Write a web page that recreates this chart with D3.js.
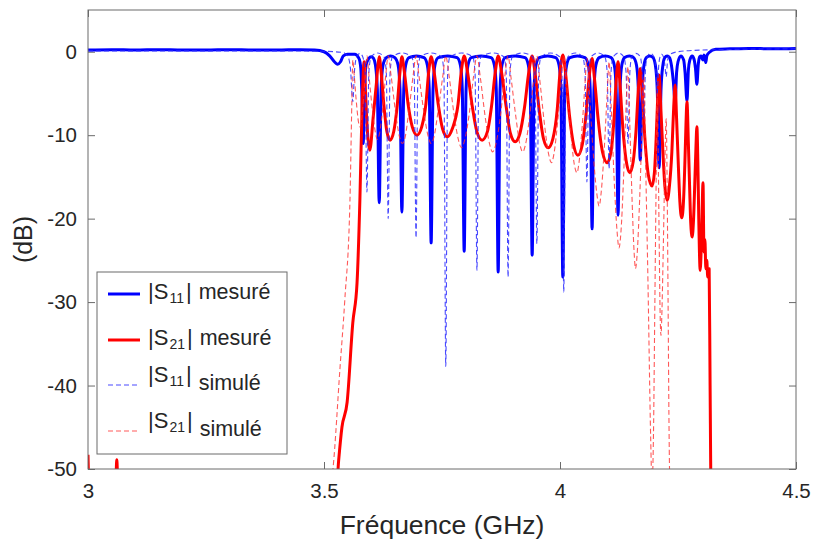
<!DOCTYPE html>
<html>
<head>
<meta charset="utf-8">
<script src="https://cdn.jsdelivr.net/npm/d3@7/dist/d3.min.js"></script>
<style>
  html, body { margin: 0; padding: 0; background: #ffffff; }
  svg { display: block; }
  text { font-family: "Liberation Sans", Arial, Helvetica, sans-serif; fill: #262626; }
</style>
</head>
<body>
<svg id="chart" width="815" height="549"></svg>
<script>
// ---------- data (frequency in GHz, magnitude in dB) ----------
const xTicks = [3, 3.5, 4, 4.5];
const xTickLabels = ["3", "3.5", "4", "4.5"];
const yTicks = [0, -10, -20, -30, -40, -50];
const yTickLabels = ["0", "-10", "-20", "-30", "-40", "-50"];

const seriesNames = ["|S11| mesuré", "|S21| mesuré", "|S11| simulé", "|S21| simulé"];

// measured |S11|
const s11Mesure = [
  [3.000,0.2],[3.050,0.25],[3.100,0.2],[3.150,0.25],[3.200,0.2],[3.250,0.2],[3.300,0.25],[3.350,0.2],
  [3.400,0.2],[3.450,0.25],[3.480,0.2],[3.500,0.0],[3.512,-0.5],[3.522,-1.2],[3.529,-1.5],[3.535,-1.2],
  [3.541,-0.5],[3.550,-0.3],[3.565,-0.3],[3.574,-0.8],[3.578,-2],[3.580,-4.5],[3.583,-11],[3.586,-4.5],
  [3.589,-1.6],[3.595,-0.8],[3.600,-0.6],[3.605,-0.8],[3.609,-1.6],[3.613,-4.5],[3.617,-18.1],
  [3.621,-4.5],[3.625,-1.6],[3.632,-0.7],[3.641,-0.5],[3.650,-0.7],[3.657,-1.6],[3.661,-4.5],[3.665,-19.2],
  [3.669,-4.5],[3.673,-1.6],[3.680,-0.7],[3.696,-0.5],[3.712,-0.7],[3.719,-1.6],[3.723,-4.5],[3.727,-22.9],
  [3.731,-4.5],[3.735,-1.6],[3.742,-0.7],[3.762,-0.5],[3.782,-0.7],[3.789,-1.6],[3.793,-4.5],[3.797,-23.9],
  [3.801,-4.5],[3.805,-1.6],[3.812,-0.7],[3.833,-0.5],[3.854,-0.7],[3.861,-1.6],[3.865,-4.5],[3.869,-26.4],
  [3.873,-4.5],[3.877,-1.6],[3.884,-0.7],[3.905,-0.5],[3.926,-0.7],[3.933,-1.6],[3.937,-4.5],[3.941,-24.4],
  [3.945,-4.5],[3.949,-1.6],[3.956,-0.7],[3.974,-0.5],[3.991,-0.7],[3.998,-1.6],[4.002,-4.5],[4.006,-27.0],
  [4.010,-4.5],[4.014,-1.6],[4.021,-0.7],[4.037,-0.5],[4.053,-0.7],[4.060,-1.6],[4.064,-4.5],[4.068,-21.2],
  [4.072,-4.5],[4.076,-1.6],[4.083,-0.7],[4.096,-0.5],[4.108,-0.7],[4.115,-1.6],[4.119,-4.5],[4.123,-19.6],
  [4.127,-4.5],[4.131,-1.6],[4.137,-0.7],[4.147,-0.5],[4.156,-0.7],[4.162,-1.6],[4.166,-4.5],[4.170,-13.0],
  [4.174,-4.5],[4.178,-1.6],[4.183,-0.7],[4.190,-0.5],[4.197,-0.7],[4.202,-1.6],[4.206,-4.5],[4.210,-13.9],
  [4.214,-4.5],[4.218,-1.6],[4.222,-0.7],[4.227,-0.5],[4.232,-0.7],[4.236,-1.6],[4.240,-3.5],[4.244,-6],
  [4.247,-2.5],[4.250,-1.2],[4.256,-0.5],[4.262,-1.0],[4.265,-2.5],[4.269,-5.9],
  [4.272,-2.2],[4.275,-1.0],[4.280,-0.5],[4.284,-0.9],[4.287,-2],[4.290,-3.9],
  [4.293,-1.5],[4.296,-0.6],[4.299,-0.5],[4.301,-0.8],[4.303,-1.0],
  [4.305,-0.4],[4.307,-0.8],[4.309,-1.3],[4.311,-0.5],[4.316,-0.1],[4.330,0.3],[4.360,0.35],
  [4.400,0.4],[4.450,0.35],[4.500,0.4]
];

// measured |S21|
const s21Mesure = [
  [3.000,-48.3],[3.0015,-51],[3.059,-51],[3.061,-48.9],[3.063,-51],[3.528,-51],[3.531,-49],
  [3.538,-45],[3.549,-42],[3.561,-32.5],[3.570,-27.7],[3.576,-17.8],[3.581,-6],[3.585,-1.2],
  [3.587,-3.5],[3.590,-7.5],[3.597,-11.8],[3.604,-8],[3.611,-3.8],[3.614,-1.8],[3.617,-0.6],
  [3.621,-2.4],[3.627,-6.5],[3.633,-9.5],[3.640,-10.6],[3.648,-9.5],[3.655,-6.5],[3.661,-2.4],[3.665,-0.6],
  [3.670,-2.3],[3.678,-6.2],[3.687,-9],[3.697,-10.0],[3.707,-9],[3.716,-6.2],[3.722,-2.3],[3.727,-0.6],
  [3.733,-2.3],[3.742,-6.3],[3.751,-9.2],[3.761,-10.2],[3.772,-9.2],[3.784,-6.3],[3.791,-2.3],[3.797,-0.5],
  [3.804,-2.4],[3.814,-6.5],[3.824,-9.6],[3.835,-10.6],[3.846,-9.6],[3.855,-6.5],[3.863,-2.4],[3.869,-0.5],
  [3.876,-2.4],[3.886,-6.6],[3.895,-9.8],[3.905,-10.8],[3.915,-9.8],[3.925,-6.6],[3.934,-2.4],[3.941,-0.5],
  [3.947,-2.5],[3.956,-7],[3.965,-10.4],[3.975,-11.5],[3.985,-10.4],[3.994,-7],[4.000,-2.5],[4.006,-0.4],
  [4.012,-2.7],[4.020,-7.6],[4.029,-11.2],[4.038,-12.4],[4.047,-11.2],[4.055,-7.6],[4.062,-2.9],[4.068,-0.8],
  [4.073,-3.2],[4.081,-8.2],[4.090,-12],[4.100,-13.3],[4.108,-12],[4.114,-8.4],[4.119,-3.5],[4.123,-1.2],
  [4.127,-3.8],[4.133,-9],[4.140,-13],[4.148,-14.5],[4.155,-13.2],[4.161,-9.5],[4.166,-4.5],[4.170,-2.0],
  [4.174,-4.8],[4.180,-10.5],[4.187,-14.7],[4.195,-16.1],[4.200,-14.5],[4.204,-10],[4.207,-5.5],[4.210,-2.8],
  [4.213,-6],[4.218,-12],[4.222,-16],[4.227,-17.8],[4.232,-16],[4.237,-12],[4.241,-6.5],[4.244,-4.0],
  [4.247,-8],[4.251,-14],[4.254,-18],[4.258,-19.9],[4.262,-17.5],[4.265,-12.5],[4.267,-8.5],[4.269,-6.0],
  [4.272,-11],[4.275,-17],[4.277,-20.5],[4.280,-22.2],[4.283,-20],[4.286,-15],[4.288,-11.5],[4.290,-9.0],
  [4.292,-13],[4.294,-20],[4.297,-26.2],[4.300,-22],[4.303,-15.7],
  [4.305,-24],[4.307,-22.5],[4.309,-26],[4.311,-25],[4.313,-27],[4.316,-26],[4.318,-40],[4.320,-52],[4.500,-52]
];

// simulated |S11|
const s11Simule = [
  [3.000,0.1],[3.100,0.1],[3.200,0.1],[3.300,0.1],[3.400,0.1],[3.500,0.05],[3.540,-0.1],[3.550,-0.5],
  [3.556,-2],[3.561,-6],[3.565,-2],[3.570,-0.5],[3.576,-0.2],[3.582,-0.6],[3.587,-2.5],[3.591,-16.8],
  [3.595,-2.5],[3.600,-0.6],[3.6135,-0.15],[3.627,-0.6],[3.632,-2.5],[3.636,-20],
  [3.640,-2.5],[3.645,-0.6],[3.6655,-0.15],[3.686,-0.6],[3.691,-2.5],[3.695,-22.3],
  [3.699,-2.5],[3.704,-0.6],[3.7265,-0.15],[3.749,-0.6],[3.754,-2.5],[3.758,-37.7],
  [3.762,-2.5],[3.767,-0.6],[3.791,-0.15],[3.815,-0.6],[3.820,-2.5],[3.824,-26.2],
  [3.828,-2.5],[3.833,-0.6],[3.857,-0.15],[3.881,-0.6],[3.886,-2.5],[3.890,-27],
  [3.894,-2.5],[3.899,-0.6],[3.9205,-0.15],[3.942,-0.6],[3.947,-2.5],[3.951,-23],
  [3.955,-2.5],[3.960,-0.6],[3.9795,-0.15],[3.999,-0.6],[4.004,-2.5],[4.008,-28.8],
  [4.012,-2.5],[4.017,-0.6],[4.0325,-0.15],[4.048,-0.6],[4.053,-2.5],[4.057,-15.6],
  [4.061,-2.5],[4.066,-0.6],[4.0805,-0.15],[4.095,-0.6],[4.100,-2.5],[4.104,-14],
  [4.108,-2.5],[4.113,-0.6],[4.124,-0.15],[4.135,-0.6],[4.140,-2.5],[4.144,-11],
  [4.148,-2.5],[4.152,-0.6],[4.161,-0.2],[4.170,-0.6],[4.174,-2.5],[4.178,-8],
  [4.181,-2.2],[4.185,-0.6],[4.192,-0.2],[4.199,-0.6],[4.203,-2],[4.206,-5],
  [4.209,-1.8],[4.212,-0.6],[4.2155,-0.3],[4.219,-0.6],[4.222,-1.5],[4.225,-3],
  [4.228,-1],[4.233,-0.3],[4.250,0],[4.300,0.2],[4.400,0.3],[4.500,0.35]
];

// simulated |S21|
const s21Simule = [
  [3.000,-52],[3.515,-52],[3.519,-50],[3.534,-37.8],[3.544,-29.8],[3.555,-17.8],[3.559,-6],[3.561,-1.0],
  [3.564,-2.8],[3.5685,-6],[3.573,-8.4],[3.576,-9],[3.579,-8.4],[3.5835,-5.8],[3.588,-2.4],[3.591,-0.5],
  [3.595,-2.7],[3.602,-6.7],[3.609,-9.7],[3.613,-10.5],[3.618,-9.7],[3.6245,-6.7],[3.631,-2.7],[3.636,-0.5],
  [3.642,-2.8],[3.651,-7],[3.660,-10.2],[3.666,-11],[3.672,-10.2],[3.680,-7],[3.689,-2.8],[3.695,-0.5],
  [3.701,-2.8],[3.711,-7],[3.721,-10.2],[3.727,-11],[3.733,-10.2],[3.742,-7],[3.752,-2.8],[3.758,-0.5],
  [3.765,-2.9],[3.775,-7.3],[3.785,-10.6],[3.791,-11.5],[3.798,-10.6],[3.808,-7.3],[3.817,-2.9],[3.824,-0.5],
  [3.831,-3],[3.841,-7.6],[3.851,-11.1],[3.857,-12],[3.864,-11.1],[3.874,-7.6],[3.883,-3],[3.890,-0.5],
  [3.896,-3],[3.906,-7.6],[3.915,-11.1],[3.921,-12],[3.927,-11.1],[3.936,-7.6],[3.945,-3],[3.951,-0.5],
  [3.957,-3.3],[3.9665,-8.4],[3.976,-12.3],[3.982,-13.3],[3.987,-12.3],[3.995,-8.4],[4.003,-3.3],[4.008,-0.5],
  [4.0135,-3.6],[4.022,-9.2],[4.030,-13.4],[4.036,-14.5],[4.040,-13.4],[4.0465,-9.3],[4.053,-3.8],[4.057,-0.8],
  [4.062,-4.7],[4.070,-11.8],[4.078,-17],[4.083,-18.5],[4.087,-17],[4.0935,-11.9],[4.100,-5],[4.104,-1.2],
  [4.108,-6],[4.1145,-15],[4.121,-21.6],[4.125,-23.5],[4.129,-21.7],[4.1345,-15.3],[4.140,-6.5],[4.144,-1.8],
  [4.147,-7],[4.152,-16.5],[4.157,-24],[4.160,-26],[4.1635,-24.2],[4.169,-17.3],[4.1745,-8],[4.178,-3],
  [4.181,-12],[4.1865,-28],[4.192,-46],[4.195,-52],[4.198,-46],[4.201,-30],[4.204,-14],[4.206,-5],
  [4.208,-12],[4.210,-22],[4.212,-31],[4.214,-34],[4.216,-31],[4.219,-23],[4.222,-14],[4.225,-8],
  [4.227,-16],[4.229,-30],[4.231,-45],[4.233,-52],[4.500,-52]
];

// ---------- drawing ----------
const svg = d3.select("#chart");
const plot = { left: 88, right: 796, top: 10, bottom: 469 };

const x = d3.scaleLinear().domain([3, 4.5]).range([plot.left, plot.right]);
const y = d3.scaleLinear().domain([-50, 5]).range([plot.bottom, plot.top]);

svg.append("rect").attr("width", 815).attr("height", 549).attr("fill", "#ffffff");

svg.append("defs").append("clipPath").attr("id", "clip")
  .append("rect")
  .attr("x", plot.left).attr("y", plot.top)
  .attr("width", plot.right - plot.left).attr("height", plot.bottom - plot.top);

const axisColor = "#6b6b6b";

// axes with inward ticks
const gx = svg.append("g").attr("transform", `translate(0,${plot.bottom})`)
  .call(d3.axisBottom(x).tickValues(xTicks).tickSize(-7).tickPadding(14)
    .tickFormat((d, i) => xTickLabels[i]));
const gxTop = svg.append("g").attr("transform", `translate(0,${plot.top})`)
  .call(d3.axisTop(x).tickValues(xTicks).tickSize(-7).tickFormat(""));
const gy = svg.append("g").attr("transform", `translate(${plot.left},0)`)
  .call(d3.axisLeft(y).tickValues(yTicks).tickSize(-7).tickPadding(11)
    .tickFormat((d, i) => yTickLabels[i]));
const gyRight = svg.append("g").attr("transform", `translate(${plot.right},0)`)
  .call(d3.axisRight(y).tickValues(yTicks).tickSize(-7).tickFormat(""));

[gx, gxTop, gy, gyRight].forEach(g => {
  g.select(".domain").remove();
  g.selectAll(".tick line").attr("stroke", axisColor).attr("stroke-width", 1);
  g.selectAll(".tick text")
    .style("font-family", '"Liberation Sans", Arial, sans-serif')
    .style("font-size", "20.5px").attr("fill", "#262626");
});

// curves
const line = d3.line()
  .x(d => x(d[0]))
  .y(d => y(d[1]))
  .curve(d3.curveMonotoneX);

const curves = svg.append("g").attr("clip-path", "url(#clip)");
const styles = [
  { data: s11Mesure, color: "#0000ff", width: 3, dash: null, opacity: 1 },
  { data: s21Mesure, color: "#ff0000", width: 3, dash: null, opacity: 1 },
  { data: s11Simule, color: "#2a2aff", width: 1.1, dash: "5,3", opacity: 0.85 },
  { data: s21Simule, color: "#ff3030", width: 1.1, dash: "5,3", opacity: 0.8 }
];
styles.forEach(s => {
  curves.append("path")
    .datum(s.data)
    .attr("d", line)
    .attr("fill", "none")
    .attr("stroke", s.color)
    .attr("stroke-width", s.width)
    .attr("stroke-opacity", s.opacity)
    .attr("stroke-linejoin", "round")
    .attr("stroke-dasharray", s.dash);
});

// frame
svg.append("rect")
  .attr("x", plot.left).attr("y", plot.top)
  .attr("width", plot.right - plot.left).attr("height", plot.bottom - plot.top)
  .attr("fill", "none").attr("stroke", axisColor).attr("stroke-width", 1);

// axis titles
svg.append("text")
  .attr("x", (plot.left + plot.right) / 2).attr("y", 534)
  .attr("text-anchor", "middle")
  .style("font-size", "26.5px")
  .text("Fréquence (GHz)");
svg.append("text")
  .attr("transform", `translate(32,${(plot.top + plot.bottom) / 2}) rotate(-90)`)
  .attr("text-anchor", "middle")
  .style("font-size", "25px")
  .text("(dB)");

// legend
const leg = svg.append("g");
leg.append("rect")
  .attr("x", 97).attr("y", 272).attr("width", 190).attr("height", 182)
  .attr("fill", "#ffffff").attr("stroke", axisColor).attr("stroke-width", 1);

const legY = [294, 340, 385, 431];
const legSub = ["11", "21", "11", "21"];
const legWord = ["mesuré", "mesuré", "simulé", "simulé"];
styles.forEach((s, i) => {
  const ly = legY[i];
  leg.append("line")
    .attr("x1", 108).attr("x2", 140).attr("y1", ly).attr("y2", ly)
    .attr("stroke", s.color).attr("stroke-width", s.width)
    .attr("stroke-opacity", s.opacity)
    .attr("stroke-dasharray", s.dash);
  const sim = legWord[i] === "simulé";
  const base = sim ? ly - 3 : ly + 5;
  const t = leg.append("text").attr("x", 148).attr("y", base);
  t.append("tspan").style("font-size", "22px").text("|S");
  t.append("tspan").style("font-size", "14px").attr("dx", 1).attr("dy", 4).text(legSub[i]);
  t.append("tspan").style("font-size", "22px").attr("dx", 2).attr("dy", -4).text("|");
  t.append("tspan").style("font-size", "21.5px").attr("dx", 7).attr("dy", sim ? 8 : 0).text(legWord[i]);
});
</script>
</body>
</html>
